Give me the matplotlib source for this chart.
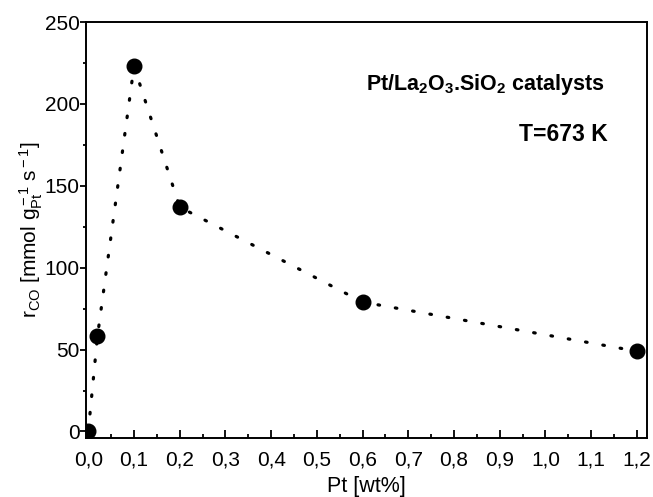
import matplotlib
matplotlib.use("Agg")
import matplotlib.pyplot as plt
from matplotlib.ticker import MultipleLocator, FuncFormatter


# Pt loading [wt%] and CO reaction rate
pt_loading = [0.0, 0.02, 0.1, 0.2, 0.6, 1.2]
rate_co = [0.0, 58, 223, 137, 79, 49]

plt.rcParams["font.family"] = ["Liberation Sans", "DejaVu Sans"]
plt.rcParams["mathtext.fontset"] = "custom"
plt.rcParams["mathtext.rm"] = "Liberation Sans"
plt.rcParams["mathtext.it"] = "Liberation Sans:italic"
plt.rcParams["mathtext.bf"] = "Liberation Sans:bold"


def comma_fmt(value, pos):
    return f"{value:.1f}".replace(".", ",")


fig = plt.figure(figsize=(6.53, 4.97), dpi=100)
ax = fig.add_axes([0.1317, 0.1187, 0.8591, 0.837])

ax.plot(pt_loading, rate_co, color="black", linewidth=2.3,
        linestyle=(0, (0.5, 5.0)), dash_capstyle="round", zorder=2)
ax.plot(pt_loading, rate_co, linestyle="none", marker="o",
        markersize=10.5, color="black", zorder=3)

ax.set_xlim(-0.005, 1.222)
ax.set_ylim(-4, 250)

ax.xaxis.set_major_locator(MultipleLocator(0.1))
ax.xaxis.set_minor_locator(MultipleLocator(0.05))
ax.xaxis.set_major_formatter(FuncFormatter(comma_fmt))
ax.yaxis.set_major_locator(MultipleLocator(50))
ax.yaxis.set_minor_locator(MultipleLocator(25))

ax.tick_params(axis="x", which="both", direction="in", labelsize=15, pad=9)
ax.tick_params(axis="x", which="major", length=6, width=1.3)
ax.tick_params(axis="x", which="minor", length=3, width=1.3)
ax.tick_params(axis="y", which="both", direction="out", labelsize=15, pad=0.5)
ax.tick_params(axis="y", which="major", length=4, width=1.3)
ax.tick_params(axis="y", which="minor", length=2.5, width=1.3)

for spine in ax.spines.values():
    spine.set_linewidth(1.4)

ax.set_xlabel("Pt [wt%]", fontsize=15.5, labelpad=5)
ax.set_ylabel(r"r$_{\rm CO}$ [mmol g$_{\rm Pt}^{\rm -1}$ s$^{\rm -1}$]",
              fontsize=15, labelpad=0)

ax.text(0.925, 0.85,
        r"Pt/La$_\mathbf{2}$O$_\mathbf{3}$.SiO$_\mathbf{2}$ catalysts",
        transform=ax.transAxes, ha="right", va="center",
        fontsize=15.5, fontweight="bold")
ax.text(0.93, 0.73, "T=673 K", transform=ax.transAxes,
        ha="right", va="center", fontsize=16.5, fontweight="bold")

fig.savefig("out.png", dpi=100)
